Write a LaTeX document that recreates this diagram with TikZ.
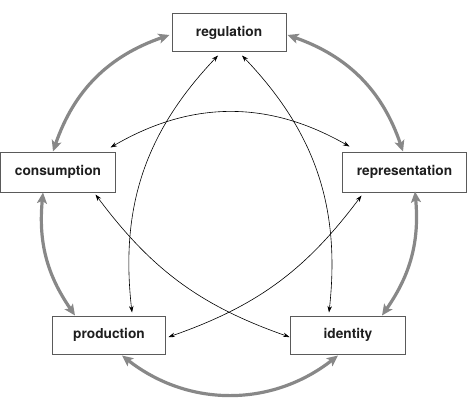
\documentclass[tikz,border=0pt]{standalone}
\usepackage{fontspec}
\setmainfont{TeX Gyre Heros}
\usetikzlibrary{arrows.meta,calc}
\definecolor{arrgrey}{HTML}{888888}
\definecolor{boxline}{HTML}{5A5A5A}
\definecolor{txt}{HTML}{1E1E1E}
\begin{document}
\begin{tikzpicture}[x=1pt,y=-1pt,
  box/.style={draw=boxline,line width=1pt,fill=white,inner sep=0pt,
    minimum height=38pt,text=txt,font=\fontsize{13.7}{16}\selectfont\bfseries},
  bigarr/.style={draw=arrgrey,line width=3.2pt,
    {Stealth[length=11pt,width=10pt,inset=2.5pt]}-{Stealth[length=11pt,width=10pt,inset=2.5pt]}},
  thinarr/.style={draw=black,line width=0.6pt,
    {Stealth[length=6.5pt,width=4.5pt]}-{Stealth[length=6.5pt,width=4.5pt]}}]
\useasboundingbox (0,0) rectangle (470,401);
% nodes
\node[box,minimum width=114pt] (reg) at (229,32.5) {regulation};
\node[box,minimum width=115pt,minimum height=40pt] (cons) at (58,172) {consumption};
\node[box,minimum width=124pt,minimum height=40pt] (rep) at (404.5,172) {representation};
\node[box,minimum width=113pt] (prod) at (109,335) {production};
\node[box,minimum width=115pt] (ident) at (348,335) {identity};
% thick grey outer arrows
\draw[bigarr] ($(reg.west)+(-2,2.5)$) to[bend right=26] ($(cons.north)+(-5,0)$);
\draw[bigarr] ($(reg.east)+(1,2.5)$) to[bend left=26] ($(rep.north)+(-1.5,0)$);
\draw[bigarr] ($(rep.south)+(10.5,-1)$) to[bend left=20] ($(ident.north)+(34,0)$);
\draw[bigarr] ($(ident.south)+(-10,1)$) to[bend left=38] ($(prod.south)+(13,1)$);
\draw[bigarr] ($(prod.north)+(-34,0)$) to[bend left=20] ($(cons.south)+(-15,0)$);
% thin black inner arrows
\draw[thinarr] ($(reg.south)+(-11,3.5)$) to[bend right=25] ($(prod.north)+(23,-3)$);
\draw[thinarr] ($(reg.south)+(13,3.5)$) to[bend left=25] ($(ident.north)+(-19,-3)$);
\draw[thinarr] ($(cons.north east)+(-5.5,-4)$) to[bend left=30] ($(rep.north west)+(7.5,-5)$);
\draw[thinarr] ($(cons.south east)+(-20.5,2)$) to[bend right=17] ($(ident.west)+(-0.5,2)$);
\draw[thinarr] ($(rep.south west)+(19.5,3)$) to[bend left=17] ($(prod.east)+(2.5,2)$);
\end{tikzpicture}
\end{document}
